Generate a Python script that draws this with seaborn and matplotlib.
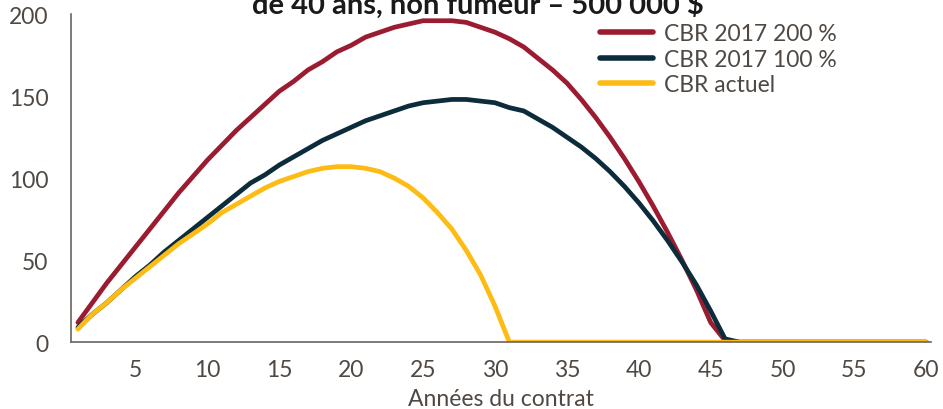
import matplotlib
matplotlib.use("Agg")
import matplotlib.pyplot as plt
import seaborn as sns
import numpy as np
import pandas as pd

years = list(range(1, 61))
cbr_200 = [12, 24, 36, 47, 58, 69, 80, 91, 101, 111, 120, 129, 137, 145, 153, 159, 166, 171, 177, 181,
           186, 189, 192, 194, 196, 196, 196, 195, 192, 189, 185, 180, 173, 166, 158, 148, 137, 125, 112, 98,
           83, 67, 50, 32, 12, 1] + [0] * 14
cbr_100 = [9, 17, 24, 32, 40, 47, 55, 62, 69, 76, 83, 90, 97, 102, 108, 113, 118, 123, 127, 131,
           135, 138, 141, 144, 146, 147, 148, 148, 147, 146, 143, 141, 136, 131, 125, 119, 112, 104, 95, 85,
           74, 62, 49, 35, 19, 2] + [0] * 14
cbr_actuel = [8, 17, 24, 32, 39, 46, 53, 60, 66, 72, 79, 84, 89, 94, 98, 101, 104, 106, 107, 107,
              106, 104, 100, 95, 88, 79, 69, 56, 41, 22] + [0] * 30

series_names = ["CBR 2017 200 %", "CBR 2017 100 %", "CBR actuel"]
colors = ["#9b1c31", "#0c2c3c", "#fdbb13"]
text_color = "#4f4843"

df = pd.DataFrame({"year": years * 3,
                   "value": cbr_200 + cbr_100 + cbr_actuel,
                   "series": np.repeat(series_names, len(years))})

sns.set_style("white")
plt.rcParams["font.family"] = ["Lato", "DejaVu Sans"]

fig = plt.figure(figsize=(9.43, 4.10), dpi=100)
ax = fig.add_axes([0.075, 0.163, 0.912, 0.8])
sns.lineplot(data=df, x="year", y="value", hue="series", palette=colors,
             linewidth=3.4, ax=ax, legend=True)

ax.set_xlim(0.5, 60.3)
ax.set_ylim(0, 200)
ax.set_xticks(range(5, 61, 5))
ax.set_yticks(range(0, 201, 50))
ax.tick_params(axis="both", length=0, labelsize=16.5, colors=text_color)
ax.tick_params(axis="x", pad=12)
ax.tick_params(axis="y", pad=16)
ax.set_xlabel("Années du contrat", fontsize=16.5, color=text_color, labelpad=6)
ax.set_ylabel("")
sns.despine(ax=ax)
for s in ["left", "bottom"]:
    ax.spines[s].set_color("#6b6460")
    ax.spines[s].set_linewidth(1.2)

leg = ax.legend(loc="upper right", bbox_to_anchor=(0.915, 1.035), frameon=False, fontsize=16.5,
                handlelength=2.3, labelspacing=0.2, handletextpad=0.5)
for t in leg.get_texts():
    t.set_color(text_color)
for h in leg.get_lines():
    h.set_linewidth(4)

# title is clipped by the top edge in the original figure
fig.text(0.507, 0.966, "de 40 ans, non fumeur – 500 000 $", ha="center", va="baseline",
         fontsize=21, fontweight="bold", color="#1a1a1a")

fig.savefig("out.png", dpi=100)
